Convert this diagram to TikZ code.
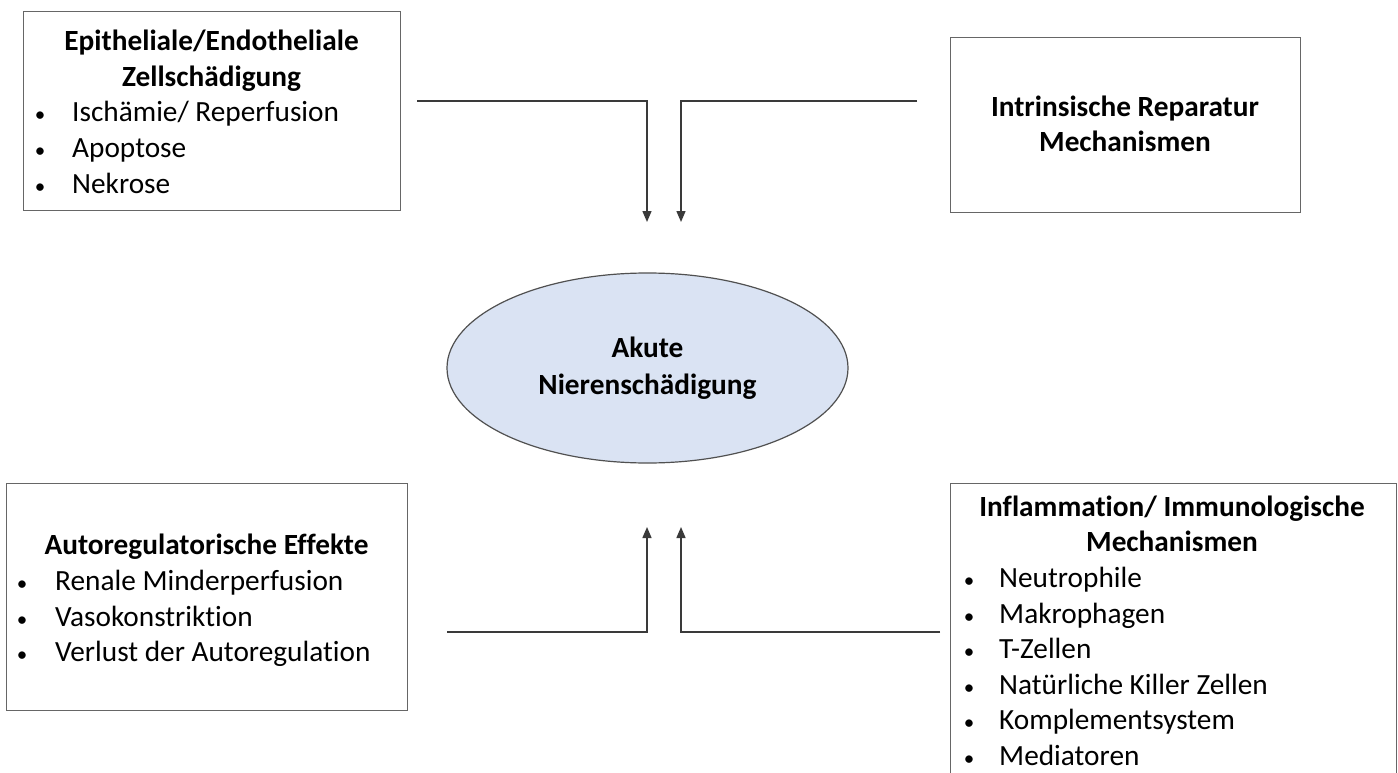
\documentclass[tikz,border=0pt]{standalone}
\usepackage{fontspec}
\setmainfont{Carlito}[Ligatures=NoCommon]
\usetikzlibrary{arrows.meta,shapes.geometric}
\definecolor{boxline}{HTML}{666666}
\definecolor{ellfill}{HTML}{DAE3F3}
\definecolor{ellline}{HTML}{505050}
\definecolor{connc}{HTML}{3A3A3A}
\begin{document}
\begin{tikzpicture}[x=1pt,y=-1pt,
  box/.style={draw=boxline, line width=1.3pt, fill=white, rectangle, inner sep=0pt, anchor=north west},
  ttl/.style={font=\fontsize{29.3}{35.7}\selectfont\bfseries, anchor=mid, inner sep=0pt},
  itm/.style={font=\fontsize{29.3}{35.7}\selectfont, anchor=mid west, inner sep=0pt},
  bul/.style={font=\fontsize{21}{24}\selectfont, anchor=mid, inner sep=0pt},
  conn/.style={draw=connc, line width=1.4pt, -{Triangle[length=11pt,width=9pt]}}]
\fill[white] (0,0) rectangle (1398,773);
\useasboundingbox (0,0) rectangle (1398,773);
\clip (0,0) rectangle (1398,773);

% boxes
\node[box, minimum width=377pt, minimum height=199pt] (tl) at (23,11) {};
\node[box, minimum width=350pt, minimum height=175pt] (tr) at (950,37) {};
\node[box, minimum width=401pt, minimum height=227pt] (bl) at (6,483) {};
\node[box, minimum width=446pt, minimum height=320pt] (br) at (950,483) {};

% ellipse
\node[ellipse, draw=ellline, line width=1.2pt, fill=ellfill, minimum width=401pt, minimum height=190pt, inner sep=0pt,
      align=center, font=\fontsize{29.3}{36.5}\selectfont\bfseries] (ak) at (647.5,368) {\raisebox{-4pt}{Akute}\\\raisebox{-4pt}{Nierenschädigung}};

% top-left contents
\node[ttl] (tlt1) at (211.5,48.5) {Epitheliale/Endotheliale};
\node[ttl] (tlt2) at (211.5,84) {Zellschädigung};
\foreach \t [count=\i from 0] in {Ischämie/ Reperfusion, Apoptose, Nekrose}{
  \node[bul] (tlb\i) at (40,119.5+35.7*\i) {•};
  \node[itm] (tli\i) at (72,119.5+35.7*\i) {\t};
}

% top-right contents
\node[ttl] (trt1) at (1125,114) {Intrinsische Reparatur};
\node[ttl] (trt2) at (1125,149.5) {Mechanismen};

% bottom-left contents
\node[ttl] (blt1) at (206.5,552.5) {Autoregulatorische Effekte};
\foreach \t [count=\i from 0] in {Renale Minderperfusion, Vasokonstriktion, Verlust der Autoregulation}{
  \node[bul] (blb\i) at (22,588+35.7*\i) {•};
  \node[itm] (bli\i) at (55,588+35.7*\i) {\t};
}

% bottom-right contents
\node[ttl] (brt1) at (1172,514) {Inflammation/ Immunologische};
\node[ttl] (brt2) at (1172,549.5) {Mechanismen};
\foreach \t [count=\i from 0] in {Neutrophile, Makrophagen, T-Zellen, Natürliche Killer Zellen, Komplementsystem, Mediatoren}{
  \node[bul] (brb\i) at (969,585.5+35.5*\i) {•};
  \node[itm] (bri\i) at (999,585.5+35.5*\i) {\t};
}

% connectors
\coordinate (s1) at (417,101);
\coordinate (e1) at (647,222);
\coordinate (s2) at (917,101);
\coordinate (e2) at (681,222);
\coordinate (s3) at (447,632);
\coordinate (e3) at (647,527);
\coordinate (s4) at (940,632);
\coordinate (e4) at (681,527);
\draw[conn] (s1) -| (e1);
\draw[conn] (s2) -| (e2);
\draw[conn] (s3) -| (e3);
\draw[conn] (s4) -| (e4);
\end{tikzpicture}
\end{document}
